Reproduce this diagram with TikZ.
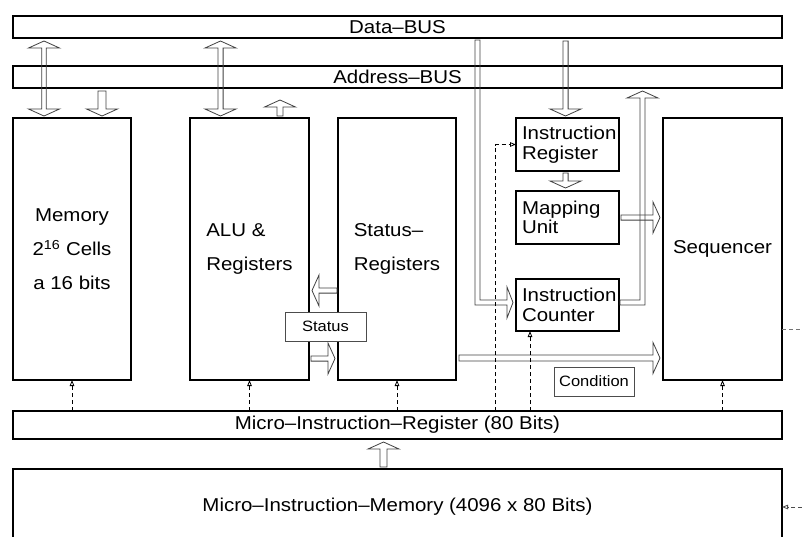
\documentclass[tikz,border=0pt]{standalone}
\usepackage{fontspec}
\setmainfont{Liberation Sans}[FakeStretch=1.1]
\usetikzlibrary{calc,arrows.meta}
\newcommand\harr[3][2.6]{%
  \coordinate (hq) at ($(#3)!7pt!(#2)$);
  \draw[harrow] ($(#2)!#1pt!90:(#3)$) -- ($(hq)!#1pt!90:(#3)$) -- ($(hq)!15.5pt!90:(#3)$) -- (#3)
    -- ($(hq)!15.5pt!-90:(#3)$) -- ($(hq)!#1pt!-90:(#3)$) -- ($(#2)!#1pt!-90:(#3)$) -- cycle;}
\newcommand\hdarr[3][2.6]{%
  \coordinate (hp) at ($(#2)!7pt!(#3)$);
  \coordinate (hq) at ($(#3)!7pt!(#2)$);
  \draw[harrow] (#2) -- ($(hp)!15.5pt!90:(#3)$) -- ($(hp)!#1pt!90:(#3)$) -- ($(hq)!#1pt!90:(#3)$)
    -- ($(hq)!15.5pt!90:(#3)$) -- (#3) -- ($(hq)!15.5pt!-90:(#3)$) -- ($(hq)!#1pt!-90:(#3)$)
    -- ($(hp)!#1pt!-90:(#3)$) -- ($(hp)!15.5pt!-90:(#3)$) -- cycle;}
\begin{document}
\begin{tikzpicture}[x=1pt,y=-1pt,
  bx/.style={draw=black,line width=1.5pt,inner sep=0pt,outer sep=0pt,anchor=north west,
    font=\fontsize{18.6pt}{34pt}\selectfont},
  sz/.style 2 args={minimum width=#1pt,minimum height=#2pt},
  reg/.style={font=\fontsize{18.6pt}{19.5pt}\selectfont,text width=91pt,align=left},
  sbx/.style={draw=black!70,line width=0.8pt,fill=white,inner sep=0pt,outer sep=0pt,
    anchor=north west,font=\fontsize{15pt}{18pt}\selectfont},
  harrow/.style={draw=black!75,line width=0.8pt,line join=miter},
  dline/.style={draw=black,line width=0.8pt,dash pattern=on 4pt off 3pt},
  darr/.style={dline,-{Triangle[open,length=6pt,width=4.5pt,line width=0.8pt]}},
  gline/.style={draw=black!55,line width=1pt,dash pattern=on 4pt off 3pt}]
\useasboundingbox (0,0) rectangle (802,536);
\clip (0,0) rectangle (802,536);
% boxes
\node[bx,sz={769}{22}] (databus) at (13,16) {Data–BUS};
\node[bx,sz={769}{22}] (addrbus) at (13,66) {Address–BUS};
\node[bx,sz={118}{262},align=center] (mem) at (13,118) {Memory\\2\textsuperscript{16} Cells\\a 16 bits};
\node[bx,sz={119}{262},align=left] (alu) at (190,118) {ALU \&\\Registers};
\node[bx,sz={118}{262},align=left] (stat) at (338,118) {Status–\\Registers};
\node[bx,sz={119}{262}] (seq) at (663,118) {Sequencer};
\node[bx,sz={103}{53},reg] (ir) at (516,118) {Instruction\\Register};
\node[bx,sz={103}{53},reg] (map) at (516,191) {Mapping\\Unit};
\node[bx,sz={103}{52},reg] (ic) at (516,279) {Instruction\\Counter};
\node[bx,sz={769}{28}] (mir) at (13,411) {Micro–Instruction–Register (80 Bits)};
\node[bx,sz={769}{76}] (mim) at (13,469) {Micro–Instruction–Memory (4096 x 80 Bits)};
% hollow arrows
\coordinate (m1a) at ($(databus.south -| 44,0)+(0,3)$);
\coordinate (m1b) at ($(mem.north -| 44,0)+(0,-2)$);
\hdarr[2.3]{m1a}{m1b}
\coordinate (m2a) at ($(addrbus.south -| 102,0)+(0,3)$);
\coordinate (m2b) at ($(mem.north -| 102,0)+(0,-2)$);
\harr[4]{m2a}{m2b}
\coordinate (a1a) at ($(databus.south -| 220.5,0)+(0,3)$);
\coordinate (a1b) at ($(alu.north -| 220.5,0)+(0,-2)$);
\hdarr[2.6]{a1a}{a1b}
\coordinate (a2a) at ($(alu.north -| 280,0)+(0,-2)$);
\coordinate (a2b) at ($(addrbus.south -| 280,0)+(0,12)$);
\harr[3]{a2a}{a2b}
\coordinate (i1a) at ($(databus.south -| 565.5,0)+(0,3)$);
\coordinate (i1b) at ($(ir.north -| 565.5,0)+(0,-2)$);
\harr[2.6]{i1a}{i1b}
\coordinate (i2a) at ($(ir.south -| 565.5,0)+(0,2)$);
\coordinate (i2b) at ($(map.north -| 565.5,0)+(0,-3)$);
\harr[2.6]{i2a}{i2b}
\coordinate (p1a) at ($(map.east)+(2,0)$);
\coordinate (p1b) at ($(seq.west |- map.east)+(-3,0)$);
\harr[2.6]{p1a}{p1b}
\coordinate (s1a) at ($(stat.west |- 0,290.5)+(-1,0)$);
\coordinate (s1b) at ($(alu.east |- 0,290.5)+(3,0)$);
\harr[2.6]{s1a}{s1b}
\coordinate (s2a) at ($(alu.east |- 0,358.5)+(2,0)$);
\coordinate (s2b) at ($(stat.west |- 0,358.5)+(-3,0)$);
\harr[2.6]{s2a}{s2b}
\coordinate (c1a) at ($(stat.east |- 0,358)+(3,0)$);
\coordinate (c1b) at ($(seq.west |- 0,358)+(-3,0)$);
\harr[3]{c1a}{c1b}
\coordinate (u1a) at ($(mim.north -| 383.5,0)+(0,-2)$);
\coordinate (u1b) at ($(mir.south -| 383.5,0)+(0,3)$);
\harr[3.5]{u1a}{u1b}
% elbow: Data-BUS -> Instruction Counter
\coordinate (e1) at ($(ic.west)+(-3,-2.5)$);
\draw[harrow] ($(databus.south -| 475,0)+(0,2)$) -- (475,305) -- (507,305) -- (507,318) -- (e1)
  -- (507,287) -- (507,300) -- (480,300) -- ($(databus.south -| 480,0)+(0,2)$) -- cycle;
% elbow: Instruction Counter -> Address-BUS
\coordinate (e2) at ($(addrbus.south -| 642.5,0)+(0,3)$);
\draw[harrow] ($(ic.east |- 0,305)+(1,0)$) -- (645,305) -- (645,98) -- (658,98) -- (e2)
  -- (627,98) -- (640,98) -- (640,300) -- ($(ic.east |- 0,300)+(1,0)$) -- cycle;
% small label boxes
\node[sbx,sz={81}{29}] (status) at (285,312) {Status};
\node[sbx,sz={80}{29}] (cond) at (554,367) {Condition};
% dashed control lines
\draw[darr] (mir.north -| mem.south) -- (mem.south);
\draw[darr] (mir.north -| alu.south) -- (alu.south);
\draw[darr] (mir.north -| stat.south) -- (stat.south);
\draw[darr] (mir.north -| seq.south) -- (seq.south);
\draw[darr] (mir.north -| 530,0) -- (ic.south -| 530,0);
\draw[darr] (mir.north -| 495,0) |- (ir.west);
\coordinate (r1) at (802,329);
\coordinate (r2) at (802,507);
\draw[gline] (seq.east |- r1) -- (r1);
\draw[darr,draw=black!70] (r2) -- (mim.east |- r2);
\end{tikzpicture}
\end{document}
